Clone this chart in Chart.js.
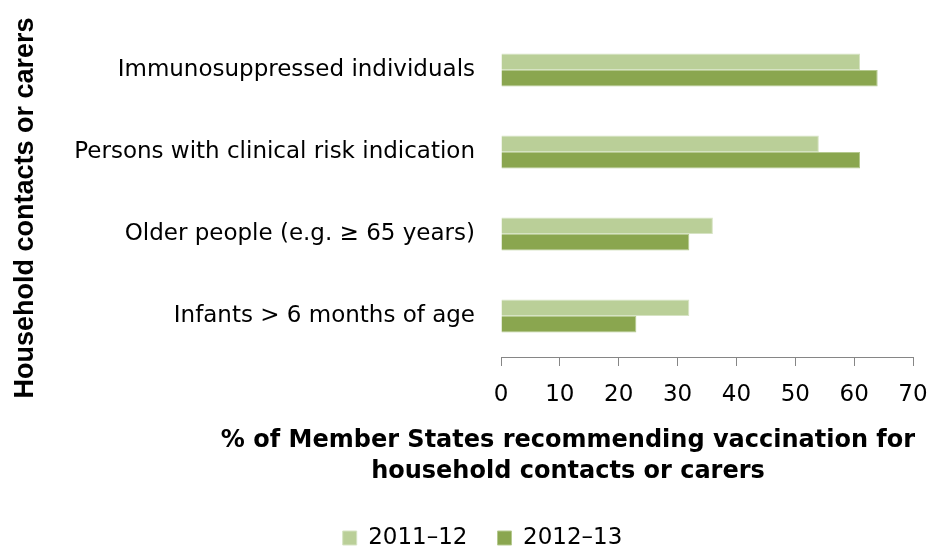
<!DOCTYPE html>
<html>
<head>
<meta charset="utf-8">
<script src="https://cdn.jsdelivr.net/npm/chart.js@4"></script>
<style>
  html, body { margin: 0; padding: 0; background: #fff; }
  #wrap { width: 927px; height: 552px; }
</style>
</head>
<body>
<div id="wrap"><canvas id="chart"></canvas></div>
<script>
const categories = [
  'Immunosuppressed individuals',
  'Persons with clinical risk indication',
  'Older people (e.g. \u2265 65 years)',
  'Infants > 6 months of age'
];
const season2011 = [61, 54, 36, 32];
const season2012 = [64, 61, 32, 23];
const xTicks = [0, 10, 20, 30, 40, 50, 60, 70];

const FONT = "'DejaVu Sans', sans-serif";
const yTitle = 'Household contacts or carers';
const xTitle = ['% of Member States recommending vaccination for', 'household contacts or carers'];

// titles drawn by hand so they can sit where the original has them
const titlesPlugin = {
  id: 'titles',
  afterDraw(chart) {
    const ctx = chart.ctx;
    ctx.save();
    ctx.fillStyle = '#000';
    ctx.textAlign = 'center';
    ctx.textBaseline = 'middle';
    ctx.font = "bold 27px 'Liberation Sans', Arial, sans-serif";
    ctx.translate(26, 208);
    ctx.rotate(-Math.PI / 2);
    ctx.fillText(yTitle, 0, 0);
    ctx.restore();

    ctx.save();
    ctx.fillStyle = '#000';
    ctx.textAlign = 'center';
    ctx.textBaseline = 'middle';
    ctx.font = 'bold 24px ' + FONT;
    ctx.fillText(xTitle[0], 568, 441);
    ctx.fillText(xTitle[1], 568, 472);
    ctx.restore();
  }
};

new Chart(document.getElementById('chart'), {
  type: 'bar',
  data: {
    labels: categories,
    datasets: [{
      label: '2011\u201312',
      data: season2011,
      backgroundColor: '#BACF98',
      borderColor: '#D6E3C3',
      borderWidth: 1,
      categoryPercentage: 0.4,
      barPercentage: 1.0
    }, {
      label: '2012\u201313',
      data: season2012,
      backgroundColor: '#8AA64F',
      borderColor: '#B5C98F',
      borderWidth: 1,
      categoryPercentage: 0.4,
      barPercentage: 1.0
    }]
  },
  options: {
    indexAxis: 'y',
    responsive: true,
    maintainAspectRatio: false,
    animation: false,
    layout: { padding: { top: 29, right: 14, left: 52, bottom: -7.5 } },
    plugins: {
      tooltip: { enabled: false },
      legend: {
        position: 'bottom',
        labels: {
          font: { family: FONT, size: 23 },
          color: '#000',
          boxWidth: 14,
          boxHeight: 14,
          padding: 30
        }
      }
    },
    scales: {
      x: {
        min: 0,
        max: 70,
        afterBuildTicks(scale) {
          scale.ticks = xTicks.map(v => ({ value: v }));
        },
        afterFit(scale) {
          scale.height = 139.5;
          scale.paddingLeft = 0;
          scale.paddingRight = 0;
        },
        border: { display: true, color: '#868686', width: 1 },
        grid: { drawOnChartArea: false, drawTicks: true, tickLength: 9, color: '#868686' },
        ticks: {
          font: { family: FONT, size: 23 },
          color: '#000',
          padding: 15,
          maxRotation: 0
        }
      },
      y: {
        afterFit(scale) {
          scale.width = 449;
          scale.paddingTop = 0;
          scale.paddingBottom = 0;
        },
        border: { display: false },
        grid: { display: false, drawTicks: false },
        ticks: {
          font: { family: FONT, size: 23 },
          color: '#000',
          padding: 26
        }
      }
    }
  },
  plugins: [titlesPlugin]
});
</script>
</body>
</html>
